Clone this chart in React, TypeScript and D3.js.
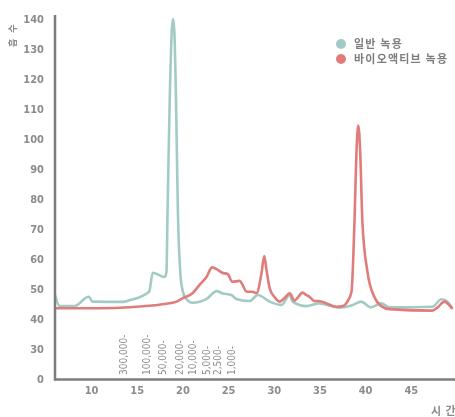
import * as d3 from "d3"
import { useEffect, useRef } from "react"

// retention time (min) and absorbance
const normalTime = [
  6.0, 6.5, 8.1, 9.7, 10.1, 13.4, 14.2, 16.3, 16.7, 18.0, 18.2, 18.32, 18.55,
  18.78, 18.92, 19.06, 19.25, 19.45, 19.75, 19.95, 20.3, 21.05, 22.6, 23.7,
  24.3, 25.3, 25.9, 27.3, 28.2, 29.5, 30.8, 31.7, 32.0, 33.5, 34.9, 37.1, 38.6,
  39.5, 40.6, 41.7, 42.6, 47.3, 48.3, 48.8, 49.5,
]
const normalValues = [
  48, 44.3, 44.3, 47.4, 45.8, 45.7, 46.3, 49.1, 55.4, 54, 55.7, 76, 112, 136,
  140, 136, 112, 76, 54, 49.7, 47, 45.4, 46.7, 49.3, 48.6, 48, 46.6, 46, 48,
  45.8, 44.7, 48, 45.8, 44.3, 45.2, 43.8, 44.7, 45.8, 43.9, 45.2, 43.9, 44.1,
  46.6, 46.1, 43.6,
]

const bioTime = [
  6.0, 10.9, 14.2, 16.3, 18.0, 19.3, 19.95, 21.05, 21.8, 22.6, 23.2, 23.7, 24.3,
  24.9, 25.4, 26.2, 27.0, 27.6, 28.05, 28.6, 28.9, 29.15, 29.5, 30.0, 30.6,
  31.1, 31.7, 32.2, 32.5, 33.1, 33.5, 33.85, 34.4, 34.9, 35.7, 36.8, 37.5, 38.0,
  38.45, 38.8, 39.0, 39.2, 39.4, 39.65, 40.2, 40.96, 41.7, 42.6, 47.3, 47.9,
  48.6, 49.5,
]
const bioValues = [
  43.6, 43.6, 43.9, 44.4, 45.0, 45.8, 46.9, 48.6, 51.3, 54.1, 57.2, 56.6, 55.4,
  55, 52.4, 52.7, 49.1, 49.1, 48.6, 55.2, 61, 56.3, 50.2, 47.4, 45.8, 46.9,
  48.6, 46.1, 46.9, 48.8, 48, 47.4, 46, 46, 45.2, 44.1, 44.3, 45.8, 49, 74.7,
  96, 104.5, 96, 72, 55.7, 47.3, 44.3, 43.3, 42.8, 43.9, 45.8, 43.3,
]

// molecular weight markers
const markerTime = [13.6, 16.1, 17.8, 19.7, 21.05, 22.6, 23.8, 25.4]
const markerLabels = [
  "300,000-",
  "100,000-",
  "50,000-",
  "20,000-",
  "10,000-",
  "5,000-",
  "2,500-",
  "1,000-",
]

const yTicks = [20, 30, 40, 50, 60, 70, 80, 90, 100, 110, 120, 130, 140]
const xTicks = [10, 15, 20, 25, 30, 35, 40, 45]

const seriesNames = ["일반 녹용", "바이오액티브 녹용"]
const seriesColors = ["#a3cbc5", "#e07c7a"]

const App = () => {
  const svgRef = useRef<SVGSVGElement | null>(null)

  useEffect(() => {
    if (!svgRef.current) return
    const svg = d3.select(svgRef.current)
    svg.selectAll("*").remove()

    const width = 455
    const height = 417
    svg.attr("width", width).attr("height", height)

    const x = d3.scaleLinear().domain([6, 50]).range([55, 457])
    const y = d3.scaleLinear().domain([20, 140]).range([379, 19])

    const font = "'DejaVu Sans Condensed', 'DejaVu Sans', sans-serif"
    const gray = "#8c8c8c"

    // y tick labels (bottom one is shown as 0, axis is broken)
    svg
      .append("g")
      .selectAll("text")
      .data(yTicks)
      .enter()
      .append("text")
      .attr("x", 44)
      .attr("y", (d) => y(d))
      .attr("dy", "0.36em")
      .attr("text-anchor", "end")
      .attr("fill", gray)
      .style("font", `bold 11px ${font}`)
      .style("font-stretch", "condensed")
      .text((d) => (d === 20 ? "0" : String(d)))

    // x tick labels
    svg
      .append("g")
      .selectAll("text")
      .data(xTicks)
      .enter()
      .append("text")
      .attr("x", (d) => x(d))
      .attr("y", 394)
      .attr("text-anchor", "middle")
      .attr("fill", gray)
      .style("font", `bold 11px ${font}`)
      .style("font-stretch", "condensed")
      .text((d) => d)

    // marker labels
    svg
      .append("g")
      .selectAll("text")
      .data(markerTime)
      .enter()
      .append("text")
      .attr("transform", (d) => `translate(${x(d) + 3},375) rotate(-90)`)
      .attr("fill", gray)
      .style("font", `10px ${font}`)
      .style("font-stretch", "condensed")
      .text((d, i) => markerLabels[i])

    const drawSeries = (times: number[], values: number[], color: string) => {
      const pts = times.map((t, i) => [x(t), y(values[i])] as [number, number])
      svg
        .append("path")
        .attr("d", d3.line().curve(d3.curveMonotoneX)(pts))
        .attr("fill", "none")
        .attr("stroke", color)
        .attr("stroke-width", 2.6)
        .attr("stroke-linejoin", "round")
    }

    drawSeries(normalTime, normalValues, seriesColors[0])
    drawSeries(bioTime, bioValues, seriesColors[1])

    // axes lines
    svg
      .append("line")
      .attr("x1", 55)
      .attr("x2", 55)
      .attr("y1", 15)
      .attr("y2", 380.5)
      .attr("stroke", "#7d7d7d")
      .attr("stroke-width", 2.5)
    svg
      .append("line")
      .attr("x1", 54)
      .attr("x2", width)
      .attr("y1", 379.5)
      .attr("y2", 379.5)
      .attr("stroke", "#7d7d7d")
      .attr("stroke-width", 2.5)

    // axis titles
    svg
      .append("text")
      .attr("transform", "translate(16,47) rotate(-90)")
      .attr("fill", gray)
      .style("font", "bold 9px 'Noto Sans CJK KR', sans-serif")
      .style("letter-spacing", "2px")
      .text("흡 수")
    svg
      .append("text")
      .attr("x", 431)
      .attr("y", 415)
      .attr("fill", gray)
      .style("font", "bold 11px 'Noto Sans CJK KR', sans-serif")
      .style("letter-spacing", "1px")
      .text("시 간")

    // legend
    const legend = svg
      .append("g")
      .selectAll("g")
      .data(seriesNames)
      .enter()
      .append("g")
      .attr("transform", (d, i) => `translate(341,${44 + i * 15})`)
    legend
      .append("circle")
      .attr("r", 5)
      .attr("fill", (d, i) => seriesColors[i])
    legend
      .append("text")
      .attr("x", 13)
      .attr("dy", "0.36em")
      .attr("fill", "#7d7d7d")
      .style("font", "bold 11px 'Noto Sans CJK KR', sans-serif")
      .style("letter-spacing", "1.2px")
      .text((d) => d)
  }, [])

  return (
    <svg
      ref={svgRef}
      style={{ position: "fixed", left: 0, top: 0, display: "block" }}
    />
  )
}

export default App
